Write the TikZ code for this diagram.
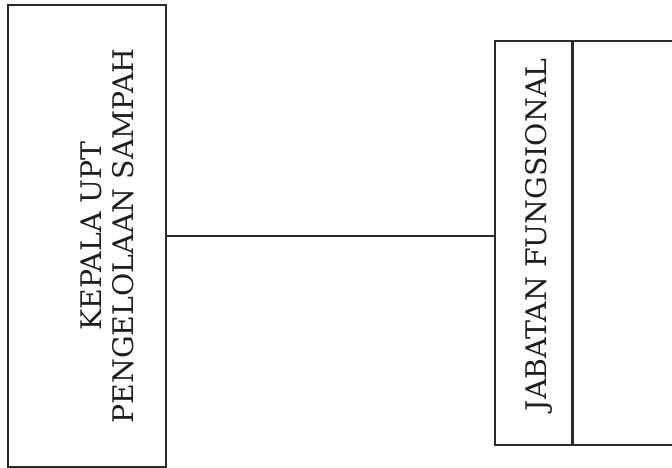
\documentclass[tikz,border=0pt]{standalone}
\usepackage{fontspec}
\usepackage{tikz}
\usetikzlibrary{positioning}
\newfontfamily\orgfont{DejaVu Serif}
\newcommand{\boxfont}{\orgfont\fontsize{28.5}{32}\selectfont}
\definecolor{OrgLine}{HTML}{2A2A2A}
\definecolor{OrgText}{HTML}{1E1E1E}

\begin{document}
\begin{tikzpicture}[
  x=1bp, y=1bp,
  unit/.style={rectangle, draw=OrgLine, line width=1.3bp, inner sep=0pt},
  caption/.style={rotate=90, align=center, text=OrgText, font=\boxfont, inner sep=0pt},
  link/.style={draw=OrgLine, line width=1.2bp}
]
\useasboundingbox (0,0) rectangle (672,468);
\clip (0,0) rectangle (672,468);
\node (kepala) [unit, minimum width=158bp, minimum height=462bp] at (87,232) {};
\node (kepala-txt) [caption] at ([xshift=20bp]kepala.center) {KEPALA UPT\\PENGELOLAAN SAMPAH};
\node (jf) [unit, minimum width=77bp, minimum height=404bp] at (533.5,225) {};
\node (jf-txt) [caption] at ([xshift=5bp, yshift=8bp]jf.center) {JABATAN FUNGSIONAL};
\node (jf-rest) [unit, minimum width=148bp, minimum height=404bp, right=0pt of jf] {};

\draw[link] (kepala.east) -- (kepala.east -| jf.west);
\end{tikzpicture}
\end{document}
